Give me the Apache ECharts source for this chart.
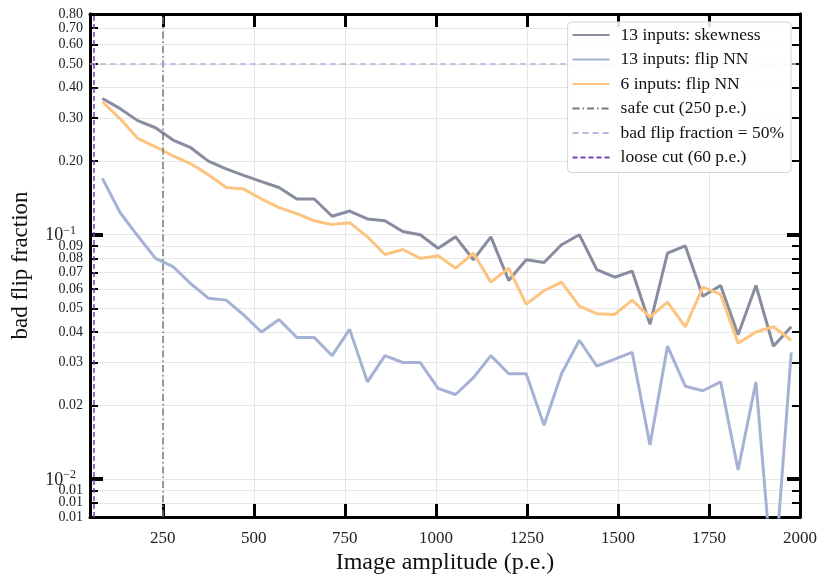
<!DOCTYPE html>
<html><head><meta charset="utf-8">
<script src="https://cdn.jsdelivr.net/npm/echarts@6/dist/echarts.min.js"></script>
<style>html,body{margin:0;padding:0;background:#fff}#c{width:818px;height:578px}</style>
</head><body><div id="c"></div>
<script>
// ---- data ----
const amplitude = [84,133,181,230,278,327,375,424,472,521,569,618,666,715,763,812,860,909,957,1006,1054,1103,1151,1200,1248,1297,1345,1394,1442,1491,1539,1588,1636,1685,1733,1782,1830,1879,1927,1976];
const skew13 = [0.361,0.328,0.293,0.274,0.244,0.227,0.200,0.186,0.175,0.165,0.156,0.140,0.140,0.119,0.125,0.116,0.114,0.103,0.100,0.088,0.098,0.079,0.098,0.065,0.079,0.077,0.091,0.100,0.072,0.067,0.071,0.043,0.084,0.090,0.056,0.062,0.039,0.062,0.035,0.042];
const flip13 = [0.170,0.123,0.099,0.080,0.074,0.063,0.055,0.054,0.047,0.040,0.045,0.038,0.038,0.032,0.041,0.025,0.032,0.030,0.030,0.0235,0.0222,0.026,0.032,0.027,0.027,0.0166,0.027,0.037,0.029,0.031,0.033,0.0138,0.035,0.024,0.023,0.025,0.0109,0.025,0.0035,0.033];
const flip6 = [0.350,0.298,0.248,0.229,0.210,0.195,0.176,0.156,0.154,0.140,0.129,0.122,0.114,0.110,0.112,0.098,0.083,0.087,0.080,0.082,0.073,0.084,0.064,0.073,0.052,0.059,0.064,0.051,0.0475,0.0472,0.054,0.046,0.053,0.042,0.061,0.057,0.036,0.040,0.042,0.037];
const xTicks = [250,500,750,1000,1250,1500,1750,2000];
const yMinorTicks = [0.007,0.008,0.009,0.02,0.03,0.04,0.05,0.06,0.07,0.08,0.09,0.2,0.3,0.4,0.5,0.6,0.7,0.8];
const yMajorTicks = [0.01,0.1];
const safeCut = 250, looseCut = 60, badFraction = 0.5;
const names = ['13 inputs: skewness','13 inputs: flip NN','6 inputs: flip NN','safe cut (250 p.e.)','bad flip fraction = 50%','loose cut (60 p.e.)'];

// ---- chart ----
const FONT = 'Liberation Serif';
const xMin = 50, xMax = 2000, yMin = 0.007, yMax = 0.8;
const allY = yMinorTicks.concat(yMajorTicks);
const pair = arr => amplitude.map((x, i) => [x, arr[i]]);
const NOSYM = { color: 'rgba(0,0,0,0)' };

function yAxisDef(pos, major, withLabels, withSplit) {
  return {
    type: 'log', logBase: 10, min: yMin, max: yMax, position: pos,
    axisLine: { show: true, onZero: false, lineStyle: { color: '#000', width: 3 } },
    axisTick: { show: true, inside: true, length: major ? 13 : 8,
      lineStyle: { color: '#000', width: major ? 4 : 2 },
      customValues: major ? yMajorTicks : (withSplit ? allY : yMinorTicks) },
    axisLabel: {
      show: withLabels, margin: major ? 14 : 7, hideOverlap: false,
      customValues: major ? yMajorTicks : yMinorTicks,
      fontFamily: FONT, fontSize: 14, color: '#222',
      formatter: major
        ? (v => '{b|10}{s|' + (v > 0.05 ? '\u22121' : '\u22122') + '}')
        : (v => Number(v).toFixed(2)),
      rich: {
        b: { fontFamily: FONT, fontSize: 18, color: '#222', verticalAlign: 'bottom', lineHeight: 20 },
        s: { fontFamily: FONT, fontSize: 12, color: '#222', verticalAlign: 'top', lineHeight: 20 }
      }
    },
    splitLine: { show: withSplit, lineStyle: { color: '#e6e6e6', width: 1 } },
    name: withSplit ? 'bad flip fraction' : '', nameLocation: 'middle', nameGap: 58, nameMoveOverlap: false,
    nameTextStyle: { fontFamily: FONT, fontSize: 23, color: '#111' }
  };
}
function xAxisDef(pos, withLabels) {
  return {
    type: 'value', min: xMin, max: xMax, position: pos,
    axisLine: { show: true, onZero: false, lineStyle: { color: '#000', width: 3 } },
    axisTick: { show: true, inside: true, length: 13, lineStyle: { color: '#000', width: 3 }, customValues: xTicks },
    axisLabel: { show: withLabels, customValues: xTicks, margin: 13, showMaxLabel: true, fontFamily: FONT, fontSize: 17, color: '#222',
      formatter: v => String(v) },
    splitLine: { show: withLabels, lineStyle: { color: '#e6e6e6', width: 1 } },
    name: withLabels ? 'Image amplitude (p.e.)' : '', nameLocation: 'middle', nameGap: 34, nameMoveOverlap: false,
    nameTextStyle: { fontFamily: FONT, fontSize: 24, color: '#111' }
  };
}

const chart = echarts.init(document.getElementById('c'), null, { renderer: 'canvas' });
chart.setOption({
  animation: false,
  backgroundColor: '#fff',
  grid: { left: 90, right: 18, top: 14, bottom: 61, containLabel: false, outerBoundsMode: 'none' },
  xAxis: [xAxisDef('bottom', true), xAxisDef('top', false)],
  yAxis: [yAxisDef('left', false, true, true), yAxisDef('left', true, true, false),
          yAxisDef('right', false, false, false), yAxisDef('right', true, false, false)],
  legend: {
    orient: 'vertical', right: 27, top: 22, z: 20,
    itemWidth: 37, itemHeight: 14, itemGap: 6.5,
    padding: [4, 7, 6, 4],
    backgroundColor: 'rgba(255,255,255,0.88)', borderColor: '#d6d6d6', borderWidth: 1, borderRadius: 4,
    textStyle: { fontFamily: FONT, fontSize: 17.5, color: '#111', padding: [0, 0, 0, 6] },
    data: names
  },
  series: [
    { name: names[0], type: 'line', data: pair(skew13), symbol: 'none', z: 3,
      lineStyle: { color: '#878c9f', width: 3 }, itemStyle: NOSYM },
    { name: names[1], type: 'line', data: pair(flip13), symbol: 'none', z: 3,
      lineStyle: { color: '#a6b2d5', width: 3 }, itemStyle: NOSYM },
    { name: names[2], type: 'line', data: pair(flip6), symbol: 'none', z: 3,
      lineStyle: { color: '#fdc480', width: 3 }, itemStyle: NOSYM },
    { name: names[3], type: 'line', data: [], symbol: 'none',
      lineStyle: { color: '#7a7a7a', width: 1.5, type: [7, 3, 1.5, 3] }, itemStyle: NOSYM,
      markLine: { silent: true, symbol: 'none', label: { show: false },
        lineStyle: { color: '#7a7a7a', width: 1.5, type: [7, 3, 1.5, 3] }, data: [{ xAxis: safeCut }] } },
    { name: names[4], type: 'line', data: [], symbol: 'none',
      lineStyle: { color: '#c6b0de', width: 1.5, type: [6, 4] }, itemStyle: NOSYM,
      markLine: { silent: true, symbol: 'none', label: { show: false },
        lineStyle: { color: '#c6b0de', width: 1.5, type: [6, 4] }, data: [{ yAxis: badFraction }] } },
    { name: names[5], type: 'line', data: [], symbol: 'none',
      lineStyle: { color: '#7b3db3', width: 1.5, type: [5, 3] }, itemStyle: NOSYM,
      markLine: { silent: true, symbol: 'none', label: { show: false },
        lineStyle: { color: '#7b3db3', width: 1.5, type: [5, 3] }, data: [{ xAxis: looseCut }] } }
  ]
});
</script>
</body></html>
